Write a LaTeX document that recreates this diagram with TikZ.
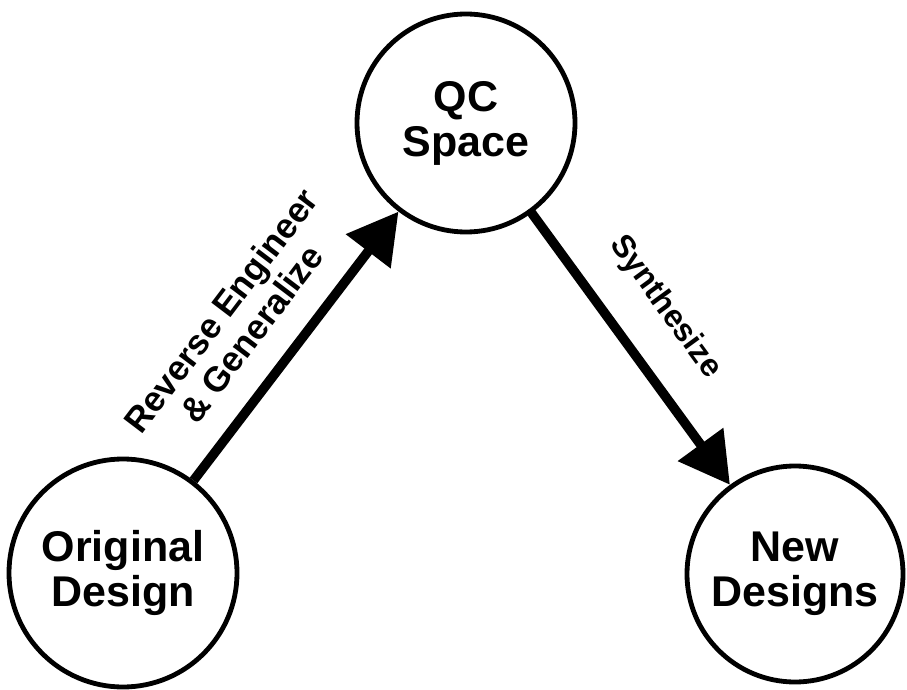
\documentclass[tikz,border=0pt]{standalone}
\usepackage{fontspec}
\setmainfont{Liberation Sans}
\usetikzlibrary{arrows.meta}
\begin{document}
\begin{tikzpicture}[x=1pt,y=1pt,
  state/.style={circle, draw, line width=4.8pt, inner sep=0pt, align=center,
    font=\bfseries\fontsize{43}{45}\selectfont},
  flow/.style={line width=9.5pt, -{Triangle[length=50pt,width=54pt]}},
  lab/.style={align=center, inner sep=0pt}]
\useasboundingbox (0,0) rectangle (907,689);
% the three stages
\node[state, minimum size=228pt] (orig) at (123,116) {Original\\Design};
\node[state, minimum size=218pt] (qc)   at (466,566) {QC\\Space};
\node[state, minimum size=216pt] (new)  at (795,115) {New\\Designs};
% transitions
\draw[flow] (orig) -- (qc);
\draw[flow, line cap=round] (qc) -- (new);
% transition labels
\node[lab, rotate=52.8, font=\bfseries\fontsize{35}{38}\selectfont] (revlab) at (236,367)
  {Reverse Engineer\\\& Generalize};
\node[lab, rotate=-53.9, font=\bfseries\fontsize{32}{38}\selectfont] (synlab) at (665,382)
  {Synthesize};
\end{tikzpicture}
\end{document}
